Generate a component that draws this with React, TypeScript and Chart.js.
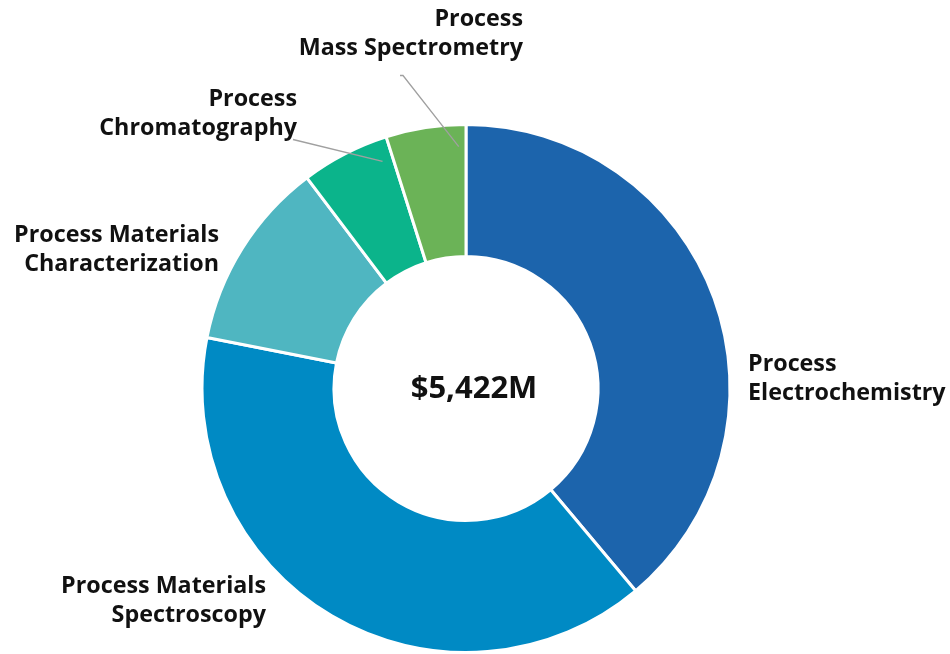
import React, { useEffect, useRef } from "react";
import { Chart, registerables } from "chart.js";

Chart.register(...registerables);

const categories = [
  "Process Electrochemistry",
  "Process Materials Spectroscopy",
  "Process Materials Characterization",
  "Process Chromatography",
  "Process Mass Spectrometry",
];
const values = [2109, 2125, 630, 293, 265];
const colors = ["#1C64AC", "#008AC4", "#4FB6C1", "#0BB48B", "#6BB357"];
const labelLines = [
  ["Process", "Electrochemistry"],
  ["Process Materials", "Spectroscopy"],
  ["Process Materials", "Characterization"],
  ["Process", "Chromatography"],
  ["Process", "Mass Spectrometry"],
];
const centerText = "$5,422M";

const FONT = '"Open Sans", "Noto Sans", sans-serif';

const labelsPlugin = {
  id: "customLabels",
  afterDraw(chart: any) {
    const ctx = chart.ctx;
    const meta = chart.getDatasetMeta(0);
    const arc0 = meta.data[0];
    const cx = arc0.x;
    const cy = arc0.y;
    const R = arc0.outerRadius;
    ctx.save();
    // center text
    ctx.fillStyle = "#111";
    ctx.font = `bold 31px ${FONT}`;
    ctx.textAlign = "center";
    ctx.textBaseline = "middle";
    ctx.fillText(centerText, cx + 8, cy + 1);

    // label placements relative to center: [x, y of first line, align]
    const place: [number, number, CanvasTextAlign][] = [
      [cx + 282, cy - 24, "left"],
      [cx - 200, cy + 198, "right"],
      [cx - 247, cy - 153, "right"],
      [cx - 169, cy - 289, "right"],
      [cx + 57, cy - 369, "right"],
    ];
    ctx.font = `bold 23.3px ${FONT}`;
    ctx.textBaseline = "middle";
    labelLines.forEach((lines, i) => {
      const [x, y, align] = place[i];
      ctx.textAlign = align;
      lines.forEach((l, j) => ctx.fillText(l, x, y + j * 29));
    });

    // leader lines for small slices
    ctx.strokeStyle = "#A0A0A0";
    ctx.lineWidth = 1.3;
    const leader = (i: number, back: number, sx: number, sy: number, hook: number) => {
      const a = meta.data[i];
      const ang = a.endAngle - back;
      const r = R - 22;
      const ex = cx + Math.cos(ang) * r;
      const ey = cy + Math.sin(ang) * r;
      ctx.beginPath();
      ctx.moveTo(sx + hook, sy);
      ctx.lineTo(sx, sy);
      ctx.lineTo(ex, ey);
      ctx.stroke();
    };
    leader(4, 0.03, cx - 63, cy - 313, -3);
    leader(3, 0.045, cx - 173, cy - 249, 0);
    ctx.restore();
  },
};

export default function App() {
  const ref = useRef<HTMLCanvasElement>(null);
  useEffect(() => {
    if (!ref.current) return;
    const chart = new Chart(ref.current, {
      type: "doughnut",
      data: {
        labels: categories,
        datasets: [
          {
            data: values,
            backgroundColor: colors,
            borderColor: "#ffffff",
            borderWidth: 3,
            hoverOffset: 0,
          },
        ],
      },
      options: {
        animation: false,
        responsive: false,
        cutout: "50%",
        rotation: 0,
        layout: { padding: { left: 197, right: 215, top: 123, bottom: -6 } },
        plugins: {
          legend: { display: false },
          tooltip: { enabled: false },
        },
      },
      plugins: [labelsPlugin],
    });
    return () => chart.destroy();
  }, []);
  return (
    <div style={{ position: "fixed", left: 0, top: 0, width: 950, height: 654, background: "#fff" }}>
      <canvas ref={ref} width={950} height={654} style={{ display: "block" }} />
    </div>
  );
}
